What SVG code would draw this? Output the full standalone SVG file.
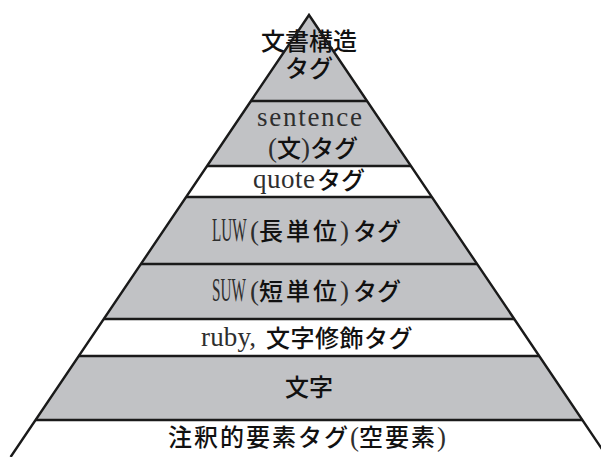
<svg xmlns="http://www.w3.org/2000/svg" width="601" height="457" viewBox="0 0 601 457">
<style>
.g { fill:#c1c2c5; stroke:none }
.w { fill:#ffffff; stroke:none }
.edge { fill:none; stroke:#1a1a1a; stroke-width:2.4; stroke-linejoin:miter; stroke-miterlimit:10 }
.j { font-family:"Noto Sans CJK JP","Noto Sans",sans-serif; font-size:24px; font-weight:500; fill:#111111 }
.l { font-family:"Liberation Serif",serif; font-size:27px; font-weight:400; fill:#2e2e2e }
.p { font-family:"Liberation Serif",serif; font-size:27px; font-weight:400; fill:#2e2e2e }
.c { font-family:"Liberation Serif",serif; font-size:33px; font-weight:400; fill:#2e2e2e }
</style>
<rect x="0" y="0" width="601" height="457" fill="#ffffff"/>

<g id="layer-bunsho">
  <polygon class="g" points="309,15 367,101 251,101"/>
  <text class="j" x="309" y="50" text-anchor="middle">文書構造</text>
  <text class="j" x="309" y="77" text-anchor="middle">タグ</text>
</g>

<g id="layer-sentence">
  <polygon class="g" points="251,101 367,101 410.9,166 207.1,166"/>
  <text class="l" x="257" y="126" textLength="105" lengthAdjust="spacing">sentence</text>
  <text class="j" x="268" y="157"><tspan class="p">(</tspan>文<tspan class="p">)</tspan>タグ</text>
</g>

<g id="layer-quote">
  <polygon class="w" points="207.1,166 410.9,166 431.9,197 186.2,197"/>
  <text class="l" x="253" y="188" textLength="62" lengthAdjust="spacing">quote</text>
  <text class="j" x="317" y="189">タグ</text>
</g>

<g id="layer-luw">
  <polygon class="g" points="186.2,197 431.9,197 477.1,264 140.9,264"/>
  <text class="c" transform="translate(212,241) scale(0.46,1)">LUW</text>
  <text class="j" x="250" y="240"><tspan class="p">(</tspan><tspan letter-spacing="3">長単位</tspan><tspan class="p">)</tspan><tspan dx="4">タグ</tspan></text>
</g>

<g id="layer-suw">
  <polygon class="g" points="140.9,264 477.1,264 514.2,319 103.8,319"/>
  <text class="c" transform="translate(212,301) scale(0.46,1)">SUW</text>
  <text class="j" x="250" y="300"><tspan class="p">(</tspan><tspan letter-spacing="3">短単位</tspan><tspan class="p">)</tspan><tspan dx="4">タグ</tspan></text>
</g>

<g id="layer-ruby">
  <polygon class="w" points="103.8,319 514.2,319 539.2,356 78.8,356"/>
  <text class="l" x="201" y="346" textLength="55" lengthAdjust="spacing">ruby,</text>
  <text class="j" x="266" y="347" letter-spacing="0.5">文字修飾タグ</text>
</g>

<g id="layer-moji">
  <polygon class="g" points="78.8,356 539.2,356 582.4,420 35.6,420"/>
  <text class="j" x="309" y="396" text-anchor="middle">文字</text>
</g>

<g id="layer-chushaku">
  <polygon class="w" points="35.6,420 582.4,420 607.4,457 10.6,457"/>
  <text class="j" x="168" y="446" letter-spacing="2">注釈的要素タグ<tspan class="p" letter-spacing="0">(</tspan>空要素<tspan class="p" letter-spacing="0">)</tspan></text>
</g>

<g id="connectors">
  <polyline class="edge" points="10.6,457 309,15 607.4,457"/>
  <line class="edge" x1="251" y1="101" x2="367" y2="101"/>
  <line class="edge" x1="207.1" y1="166" x2="410.9" y2="166"/>
  <line class="edge" x1="186.2" y1="197" x2="431.9" y2="197"/>
  <line class="edge" x1="140.9" y1="264" x2="477.1" y2="264"/>
  <line class="edge" x1="103.8" y1="319" x2="514.2" y2="319"/>
  <line class="edge" x1="78.8" y1="356" x2="539.2" y2="356"/>
  <line class="edge" x1="35.6" y1="420" x2="582.4" y2="420"/>
</g>
</svg>
